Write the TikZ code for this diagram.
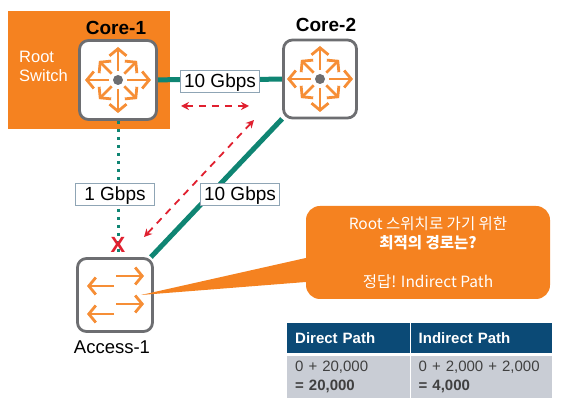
\documentclass[tikz,border=0pt]{standalone}
\usepackage{fontspec}
\setmainfont{Liberation Sans}
\newfontfamily\krfont{Noto Sans CJK KR}
\usepackage{xcolor}
\usetikzlibrary{arrows.meta,positioning,backgrounds}
\definecolor{rootorange}{HTML}{F58220}
\definecolor{linkteal}{HTML}{0F8573}
\definecolor{boxgray}{HTML}{6D6E71}
\definecolor{labelborder}{HTML}{8FA5B5}
\definecolor{pathred}{HTML}{E0202F}
\definecolor{headnavy}{HTML}{0B4A76}
\definecolor{cellgray}{HTML}{C9CDD5}
\tikzset{
  switchbox/.style={draw=boxgray,fill=white,line width=2.8pt,rounded corners=9pt,inner sep=0pt},
  speedlabel/.style={draw=labelborder,fill=white,line width=0.8pt,inner sep=0pt,minimum height=22pt,text depth=0pt,font=\fontsize{19}{22}\selectfont},
  iconarrow/.style={draw=rootorange!90!white,line width=2.8pt,-{Straight Barb[length=7pt,width=17pt,line width=2.8pt]}},
  redpath/.style={draw=pathred,line width=1.8pt,dash pattern=on 7pt off 6pt,{Stealth[length=8pt,width=8pt]}-{Stealth[length=8pt,width=8pt]}},
  headcell/.style={fill=headnavy,text=white,font=\fontsize{15}{17}\selectfont\bfseries,anchor=north west,inner xsep=8pt,inner ysep=0pt,align=left},
  bodycell/.style={fill=cellgray,text=black!75,font=\fontsize{15}{19}\selectfont,anchor=north west,inner xsep=8pt,inner ysep=0pt,align=left},
}
\begin{document}
\begin{tikzpicture}[x=1pt,y=-1pt]
\useasboundingbox (0,0) rectangle (563,411);
\node[anchor=north west,text=white,align=left,inner sep=0pt,font=\fontsize{16.5}{19}\selectfont] (rootlab) at (19,51) {Root\\Switch};
\node[font=\fontsize{19}{22}\selectfont\bfseries,inner sep=0pt] (core1lab) at (116,28) {Core-1};
\node[font=\fontsize{19}{22}\selectfont\bfseries,inner sep=0pt] (core2lab) at (326,25) {Core-2};

\node[switchbox,minimum width=77pt,minimum height=79pt] (core1) at (118,80) {};
\node[switchbox,minimum width=73pt,minimum height=78pt] (core2) at (320,79) {};
\node[switchbox,minimum width=75pt,minimum height=73pt] (access1) at (115,295) {};
\node[font=\fontsize{18.5}{21}\selectfont,inner sep=0pt] (accesslab) at (112,347) {Access-1};

\begin{scope}[on background layer]
\fill[rootorange] (8,11) rectangle (170,129);
\draw[linkteal,line width=5pt] (core1) -- (core2);
\draw[linkteal,line width=5pt] (core2) -- (access1);
\draw[linkteal,line width=3pt,dash pattern=on 3pt off 5pt] (core1.south) -- (core1.south |- access1.north);
\end{scope}

\foreach \sw in {core1,core2}{
  \foreach \a/\r in {0/33,45/27,90/33,135/27,180/33,225/27,270/33,315/27}{
    \draw[iconarrow,shift={(\sw)},rotate=\a] (9,0) -- (\r,0);
  }
  \fill[boxgray] (\sw) circle (5pt);
}
\foreach \yy in {-19,9}{
  \draw[iconarrow,shift={(access1)}] (1,\yy) -- (29,\yy);
  \draw[iconarrow,shift={(access1)}] (-1,\yy+10) -- (-28,\yy+10);
}

\node[speedlabel,minimum width=79pt] (speedtop) at (220,81) {10 Gbps};
\node[speedlabel,minimum width=79pt] (speedleft) at (115,194) {1 Gbps};
\node[speedlabel,minimum width=79pt] (speeddiag) at (240,194) {10 Gbps};

\coordinate (redA) at (181,106);
\coordinate (redB) at (249,106);
\coordinate (redC) at (254,120);
\coordinate (redD) at (144,237);
\draw[redpath] (redA) -- (redB);
\draw[redpath] (redC) -- (redD);
\node[text=pathred,inner sep=0pt,font=\fontsize{22}{22}\selectfont\bfseries] (blocked) at (118,245) {X};

\node[fill=rootorange,rounded corners=14pt,minimum width=244pt,minimum height=93pt,inner sep=0pt,text=white,align=center,font=\krfont\fontsize{15.5}{19.5}\selectfont] (callout) at (428,252.5) {Root 스위치로 가기 위한\\\textbf{최적의 경로는?}\\[19.5pt]정답! Indirect Path};
\coordinate (tailtip) at (141,295);
\fill[rootorange] (tailtip) -- (callout.west |- 0,258) -- (callout.west |- 0,282) -- cycle;

\node[headcell,minimum width=123pt,minimum height=30pt,text width=107pt] (headdirect) at (287,323) {Direct Path};
\node[headcell,minimum width=141pt,minimum height=30pt,text width=125pt] (headindirect) at (410.5,323) {Indirect Path};
\node[bodycell,minimum width=123pt,minimum height=42pt,text width=107pt] (bodydirect) at (287,356) {0 + 20,000\\\textbf{= 20,000}};
\node[bodycell,minimum width=141pt,minimum height=42pt,text width=125pt] (bodyindirect) at (410.5,356) {0 + 2,000 + 2,000\\\textbf{= 4,000}};
\end{tikzpicture}
\end{document}
